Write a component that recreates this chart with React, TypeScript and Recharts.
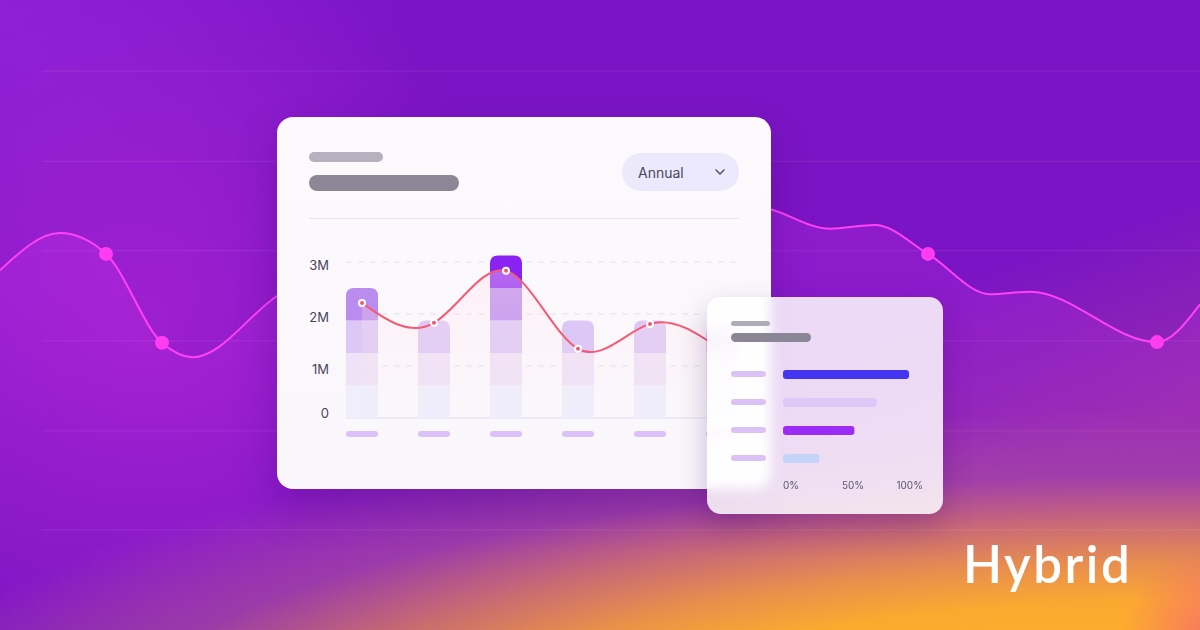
import React from 'react';
import { ComposedChart, BarChart, Bar, Area, Line, Scatter, XAxis, YAxis, CartesianGrid, Cell } from 'recharts';

// background wave: position along the banner and value (0-100)
const WAVE_T = [0, 60, 106, 162, 193, 276, 420, 600, 772, 830, 875, 928, 990, 1030, 1157, 1200];
const WAVE_V = [57.1, 63.0, 59.7, 45.6, 43.3, 52.9, 65.9, 71.4, 66.7, 63.7, 64.3, 59.7, 53.3, 53.7, 45.7, 51.7];
const WAVE_DOTS = [2, 3, 11, 14];
const WAVE_GRID = [88.7, 74.4, 60.2, 45.9, 31.6, 15.9];

// main card chart (millions)
const MONTHS = ['Jan', 'Feb', 'Mar', 'Apr', 'May', 'Jun'];
const LEVEL_1 = [0.625, 0.625, 0.625, 0.625, 0.625, 0.625];
const LEVEL_2 = [0.625, 0.625, 0.625, 0.625, 0.625, 0.625];
const LEVEL_3 = [0.625, 0.625, 0.625, 0.625, 0.625, 0.5];
const LEVEL_4 = [0.625, 0, 0.625, 0, 0, 0];
const LEVEL_5 = [0, 0, 0.625, 0, 0, 0];
const REVENUE = [2.21, 1.83, 2.83, 1.33, 1.81, 1.3];
const Y_TICKS = [0, 1, 2, 3];

// side card chart (percent)
const SHARE_NAMES = ['North', 'South', 'East', 'West'];
const SHARE_VALUES = [90, 67, 51, 26];
const SHARE_TICKS = [0, 50, 100];

const LEVEL_KEYS = ['l1', 'l2', 'l3', 'l4', 'l5'];
const LEVEL_COLORS = ['#efeefc', '#eee2f6', '#dcc8f6', '#bb8cf0', '#8a22f3'];
const SHARE_COLORS = ['#4435f0', '#dcc9f8', '#9a2cf6', '#c5d4f9'];

const topShape = (level: number) => (props: any) => {
  const { x, y, width, height, payload, fill } = props;
  if (!height || height <= 0) return <g />;
  const isTop = LEVEL_KEYS.slice(level + 1).every((k) => !payload[k]);
  const r = isTop ? Math.min(8, height, width / 2) : 0;
  const d = `M${x},${y + height} L${x},${y + r} Q${x},${y} ${x + r},${y} L${x + width - r},${y} Q${x + width},${y} ${x + width},${y + r} L${x + width},${y + height} Z`;
  return <path d={d} fill={fill} />;
};

const MainYTick = ({ x, y, payload }: any) => (
  <text x={x + 3} y={y} dy={payload.value === 0 ? 0 : 8} textAnchor="end" fontSize={13} fill="#4a4660" fontFamily="Inter">
    {payload.value === 0 ? '0' : `${payload.value}M`}
  </text>
);

const PillTick = ({ x, y }: any) => <rect x={x - 16} y={y} width={32} height={6} rx={3} fill="#dcc0f8" />;

const SidePillTick = ({ x, y }: any) => <rect x={x - 35} y={y - 3} width={35} height={6} rx={3} fill="#dcc1f8" />;

const PercentTick = ({ x, y, payload, index }: any) => {
  const anchor = index === 0 ? 'start' : index === SHARE_TICKS.length - 1 ? 'end' : 'middle';
  return (
    <text x={x} y={y} dy={7} textAnchor={anchor} fontSize={10} fill="#5b5672" fontFamily="Inter">
      {payload.value}%
    </text>
  );
};

export default function App() {
  const waveData = WAVE_T.map((t, i) => ({ t, v: WAVE_V[i] }));
  const waveDots = WAVE_DOTS.map((i) => waveData[i]);
  const chartData = MONTHS.map((name, i) => ({
    name,
    l1: LEVEL_1[i],
    l2: LEVEL_2[i],
    l3: LEVEL_3[i],
    l4: LEVEL_4[i],
    l5: LEVEL_5[i],
    revenue: REVENUE[i],
  }));
  const shareData = SHARE_NAMES.map((name, i) => ({ name, value: SHARE_VALUES[i] }));

  return (
    <div
      style={{
        position: 'absolute',
        left: 0,
        top: 0,
        width: 1200,
        height: 630,
        overflow: 'hidden',
        fontFamily: 'Inter, sans-serif',
        background: [
          'radial-gradient(circle 110px at 1230px 650px, rgba(245,90,125,0.85), rgba(245,90,125,0))',
          'radial-gradient(ellipse 1300px 330px at 1150px 740px, #ffb52a 0%, #fcaa2e 42%, #e8904a 54%, #c86c70 66%, rgba(160,70,160,0.7) 80%, rgba(130,20,200,0) 100%)',
          'linear-gradient(162deg, rgba(200,90,130,0) 58%, rgba(200,90,130,0.35) 78%, rgba(230,120,90,0.2) 100%)',
          'radial-gradient(circle 380px at 150px 320px, rgba(190,40,215,0.5), rgba(190,40,215,0))',
          'radial-gradient(circle 420px at 0px 0px, rgba(150,40,225,0.6), rgba(150,40,225,0))',
          '#7b14c4',
        ].join(','),
      }}
    >
      {/* background wave */}
      <div style={{ position: 'absolute', left: 0, top: 0 }}>
        <ComposedChart width={1200} height={630} data={waveData} margin={{ top: 0, right: 0, bottom: 0, left: 0 }}>
          <defs>
            <linearGradient id="waveFill" x1="0" y1="0" x2="0" y2="1">
              <stop offset="0%" stopColor="#d438ee" stopOpacity={0.4} />
              <stop offset="100%" stopColor="#d438ee" stopOpacity={0} />
            </linearGradient>
          </defs>
          <XAxis type="number" dataKey="t" domain={[0, 1200]} hide />
          <YAxis type="number" dataKey="v" domain={[0, 100]} ticks={WAVE_GRID} hide />
          <CartesianGrid x={42} width={1158} vertical={false} horizontalValues={WAVE_GRID} stroke="rgba(255,255,255,0.09)" />
          <Area
            type="monotone"
            dataKey="v"
            stroke="#ff42f5"
            strokeWidth={2}
            fill="url(#waveFill)"
            dot={false}
            activeDot={false}
            isAnimationActive={false}
          />
          <Scatter
            data={waveDots}
            isAnimationActive={false}
            shape={(p: any) => <circle cx={p.cx} cy={p.cy} r={7} fill="#ff3cf2" />}
          />
        </ComposedChart>
      </div>

      {/* main card */}
      <div
        style={{
          position: 'absolute',
          left: 277,
          top: 117,
          width: 494,
          height: 372,
          borderRadius: 16,
          overflow: 'hidden',
          background: 'linear-gradient(180deg, #fdfafd, #faf7fc)',
          boxShadow: '0 18px 40px rgba(55,0,110,0.28)',
        }}
      >
        <div style={{ position: 'absolute', left: 32, top: 35, width: 74, height: 10, borderRadius: 5, background: '#b5b1be' }} />
        <div style={{ position: 'absolute', left: 32, top: 58, width: 150, height: 16, borderRadius: 8, background: '#8b8797' }} />
        <div
          style={{
            position: 'absolute',
            left: 345,
            top: 36,
            width: 117,
            height: 38,
            borderRadius: 19,
            background: '#ebe9fb',
            display: 'flex',
            alignItems: 'center',
          }}
        >
          <span style={{ marginLeft: 16, fontSize: 14, color: '#4b4763' }}>Annual</span>
          <svg width={10} height={6} style={{ position: 'absolute', left: 93, top: 16 }}>
            <path d="M1,1 L5,5 L9,1" fill="none" stroke="#4b4763" strokeWidth={1.4} strokeLinecap="round" strokeLinejoin="round" />
          </svg>
        </div>
        <div style={{ position: 'absolute', left: 32, top: 101, width: 430, height: 1, background: '#e7e3ef' }} />

        <div style={{ position: 'absolute', left: 0, top: 0 }}>
          <ComposedChart width={494} height={372} data={chartData} margin={{ top: 134.6, right: 13, bottom: 41, left: 0 }}>
            <defs>
              <linearGradient id="lineFill" x1="0" y1="0" x2="0" y2="1">
                <stop offset="0%" stopColor="#ffe0e8" stopOpacity={0.62} />
                <stop offset="100%" stopColor="#ffe8ee" stopOpacity={0.05} />
              </linearGradient>
            </defs>
            <CartesianGrid x={69} width={394} vertical={false} horizontalValues={[1, 2, 3]} stroke="#e3dfe9" strokeDasharray="6 6" />
            <CartesianGrid x={69} width={394} vertical={false} horizontalValues={[0]} stroke="#e2deec" />
            <XAxis dataKey="name" axisLine={false} tickLine={false} tickSize={0} tickMargin={13} height={30} tick={<PillTick />} />
            <YAxis
              type="number"
              domain={[0, 3.2]}
              ticks={Y_TICKS}
              width={49}
              axisLine={false}
              tickLine={false}
              tickSize={0}
              tickMargin={0}
              tick={<MainYTick />}
            />
            {LEVEL_KEYS.map((k, i) => (
              <Bar key={k} dataKey={k} stackId="s" barSize={32} fill={LEVEL_COLORS[i]} shape={topShape(i)} isAnimationActive={false} />
            ))}
            <Area type="natural" dataKey="revenue" stroke="none" fill="url(#lineFill)" zIndex={350} dot={false} activeDot={false} isAnimationActive={false} />
            <Line
              type="natural"
              dataKey="revenue"
              stroke="#f45a74"
              strokeWidth={2}
              dot={{ r: 3, fill: '#f4566f', stroke: '#ffffff', strokeWidth: 2 }}
              activeDot={false}
              isAnimationActive={false}
            />
          </ComposedChart>
        </div>
      </div>

      {/* side card */}
      <div
        style={{
          position: 'absolute',
          left: 707,
          top: 297,
          width: 236,
          height: 217,
          borderRadius: 14,
          overflow: 'hidden',
          background: 'rgba(255,255,255,0.84)',
          backdropFilter: 'blur(6px)',
          WebkitBackdropFilter: 'blur(6px)',
          boxShadow: '0 12px 30px rgba(60,0,100,0.25)',
        }}
      >
        <div style={{ position: 'absolute', left: 24, top: 24, width: 39, height: 5, borderRadius: 3, background: '#b0acb9' }} />
        <div style={{ position: 'absolute', left: 24, top: 36, width: 80, height: 9, borderRadius: 5, background: '#8a8696' }} />
        <div style={{ position: 'absolute', left: 0, top: 0 }}>
          <BarChart width={236} height={217} data={shareData} layout="vertical" margin={{ top: 63, right: 20, bottom: 12, left: 0 }}>
            <XAxis
              type="number"
              domain={[0, 100]}
              ticks={SHARE_TICKS}
              axisLine={false}
              tickLine={false}
              tickSize={0}
              tickMargin={10}
              height={30}
              tick={<PercentTick />}
            />
            <YAxis
              type="category"
              dataKey="name"
              width={76}
              axisLine={false}
              tickLine={false}
              tickSize={0}
              tickMargin={17}
              tick={<SidePillTick />}
            />
            <Bar dataKey="value" barSize={9} radius={3} isAnimationActive={false}>
              {shareData.map((d, i) => (
                <Cell key={d.name} fill={SHARE_COLORS[i]} />
              ))}
            </Bar>
          </BarChart>
        </div>
      </div>

      {/* logo */}
      <svg width={240} height={80} style={{ position: 'absolute', left: 950, top: 530 }}>
        <text x={13} y={53} fontSize={51} letterSpacing={2.5} fontWeight={600} fill="#ffffff" fontFamily="Lato, 'Open Sans', sans-serif">
          Hybrid
        </text>
      </svg>
    </div>
  );
}
